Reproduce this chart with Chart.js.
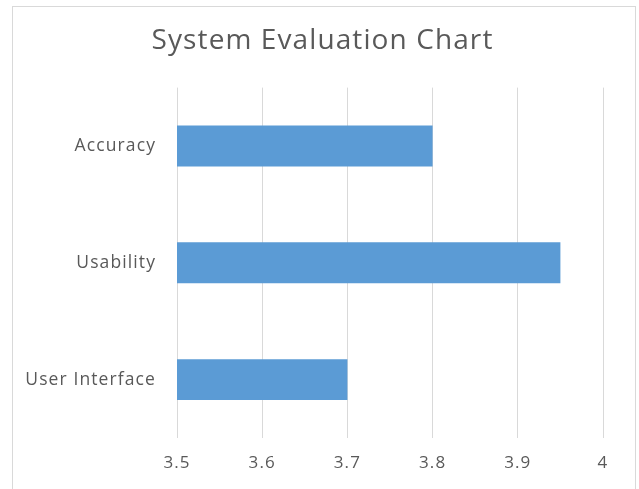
<!DOCTYPE html>
<html>
<head>
<meta charset="utf-8">
<title>System Evaluation Chart</title>
<script src="https://cdn.jsdelivr.net/npm/chart.js@4"></script>
<style>
  html,body{margin:0;padding:0;background:#fff;}
  #frame{position:absolute;left:12px;top:6px;width:624px;height:500px;border:1px solid #d9d9d9;box-sizing:border-box;}
  #wrap{position:absolute;left:0;top:0;width:639px;height:489px;}
</style>
</head>
<body>
<div id="frame"></div>
<div id="wrap"><canvas id="chart"></canvas></div>
<script>
// categories top to bottom, and their scores
const categories=['Accuracy','Usability','User Interface'];
const scores=[3.8,3.95,3.7];
const xTicks=[3.5,3.6,3.7,3.8,3.9,4];

const TXT='#595959', GRID='#d9d9d9', BAR='#5b9bd5';
const FONT='"Open Sans", sans-serif';

// office-style text is set a little looser than the canvas default
const loose={id:'loose',beforeDraw(c){c.ctx.letterSpacing='1.1px';}};

new Chart(document.getElementById('chart'),{
  type:'bar',
  data:{labels:categories,datasets:[{
    data:scores,backgroundColor:BAR,borderWidth:0,
    categoryPercentage:1,barPercentage:0.35
  }]},
  plugins:[loose],
  options:{
    indexAxis:'y',responsive:true,maintainAspectRatio:false,animation:false,
    layout:{padding:{left:6,right:0,top:0,bottom:0}},
    plugins:{
      legend:{display:false},tooltip:{enabled:false},
      title:{display:true,text:'System Evaluation Chart',color:TXT,
        font:{family:FONT,size:28,weight:'normal'},padding:{top:24,bottom:30}}
    },
    scales:{
      x:{min:xTicks[0],max:xTicks[xTicks.length-1],
        afterBuildTicks:ax=>{ax.ticks=xTicks.map(v=>({value:v}));},
        afterFit:ax=>{ax.height=51;},
        grid:{color:GRID,lineWidth:1,drawTicks:false},border:{display:false},
        ticks:{color:TXT,font:{family:FONT,size:17},padding:15,
          callback:v=>String(Math.round(v*10)/10)}},
      y:{afterFit:ax=>{ax.width=171;},
        grid:{display:false},border:{display:false},
        ticks:{color:TXT,font:{family:FONT,size:17.5},padding:13}},
      // empty strip on the right so the plot ends short of the frame
      pad:{position:'right',axis:'y',display:true,afterFit:ax=>{ax.width=36;},
        grid:{display:false},border:{display:false},ticks:{display:false}}
    }
  }
});
</script>
</body>
</html>
